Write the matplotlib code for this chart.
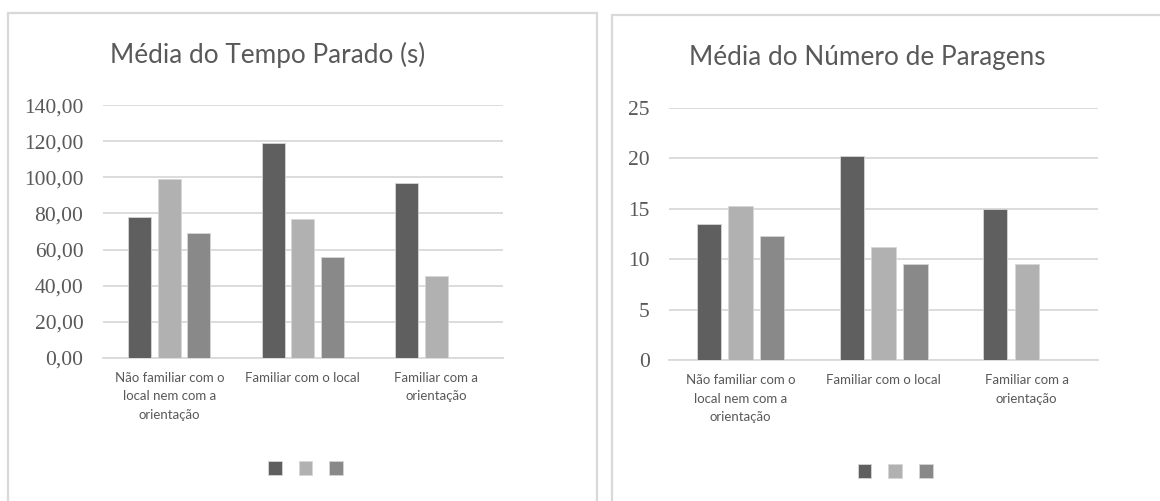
import matplotlib
matplotlib.use("Agg")
import matplotlib.pyplot as plt
from matplotlib.patches import Rectangle
import numpy as np

categories = ["Não familiar com o\nlocal nem com a\norientação",
              "Familiar com o local",
              "Familiar com a\norientação"]

# Média do Tempo Parado (s)
tempo_s1 = [77.9, 118.9, 97.1]
tempo_s2 = [99.1, 77.1, 45.1]
tempo_s3 = [69.3, 55.7, 0.0]
tempo_ticks = [0, 20, 40, 60, 80, 100, 120, 140]

# Média do Número de Paragens
paragens_s1 = [13.5, 20.2, 15.0]
paragens_s2 = [15.3, 11.2, 9.55]
paragens_s3 = [12.35, 9.55, 0.0]
paragens_ticks = [0, 5, 10, 15, 20, 25]

colors = ["#5f5f5f", "#b1b1b1", "#898989"]
edge = "#d6d6d6"
grid_c = "#d9d9d9"
text_c = "#595959"

W, H = 1160, 501
fig = plt.figure(figsize=(W / 100, H / 100), dpi=100)
fig.patch.set_facecolor("white")


def fx(px):
    return px / W


def fy(py):
    return 1 - py / H


# chart-area frames
fig.patches.append(Rectangle((fx(7.5), fy(505)), fx(597 - 7.5), fy(12.5) - fy(505),
                             transform=fig.transFigure, fill=False,
                             edgecolor=grid_c, linewidth=1.6))
fig.patches.append(Rectangle((fx(611.5), fy(505)), fx(1170 - 611.5), fy(14.5) - fy(505),
                             transform=fig.transFigure, fill=False,
                             edgecolor=grid_c, linewidth=1.6))


def draw(ax, series, ticks, fmt, width, step):
    x = np.arange(len(categories))
    bars = []
    for i, (vals, c) in enumerate(zip(series, colors)):
        b = ax.bar(x + (i - 1) * step, vals, width=width, color=c,
                   edgecolor=edge, linewidth=0.6, zorder=3)
        bars.append(b)
    ax.set_xlim(-0.5, len(categories) - 0.5)
    ax.set_ylim(ticks[0], ticks[-1])
    ax.set_yticks(ticks)
    ax.set_yticklabels([fmt(t) for t in ticks], family="Liberation Serif",
                       fontsize=15.5, color=text_c)
    ax.set_xticks(x)
    ax.set_xticklabels(categories, family="Lato", fontsize=9.5, color=text_c,
                       linespacing=1.65, va="top")
    ax.tick_params(axis="y", length=0, pad=14)
    ax.tick_params(axis="x", length=0, pad=10)
    for s in ["left", "right", "top"]:
        ax.spines[s].set_visible(False)
    ax.spines["bottom"].set_color(grid_c)
    ax.spines["bottom"].set_linewidth(1.3)
    ax.yaxis.grid(True, color=grid_c, linewidth=1.3, zorder=0)
    ax.set_axisbelow(True)
    ax.set_facecolor("none")
    return bars


ax1 = fig.add_axes([fx(102.7), fy(357.7), fx(502.7 - 102.7), fy(105.3) - fy(357.7)])
bars1 = draw(ax1, [tempo_s1, tempo_s2, tempo_s3], tempo_ticks,
             lambda t: f"{t:.2f}".replace(".", ","), 0.172, 0.221)

ax2 = fig.add_axes([fx(669), fy(360.3), fx(1098.3 - 669), fy(108) - fy(360.3)])
bars2 = draw(ax2, [paragens_s1, paragens_s2, paragens_s3], paragens_ticks,
             lambda t: f"{t:d}", 0.17, 0.222)

fig.text(fx(267.5), fy(55), "Média do Tempo Parado (s)", ha="center", va="center",
         family="Lato", fontsize=18.8, color=text_c)
fig.text(fx(866.8), fy(57), "Média do Número de Paragens", ha="center", va="center",
         family="Lato", fontsize=18.8, color=text_c)

for bars, cx, cy in [(bars1, 305.5, 468), (bars2, 895.3, 471)]:
    fig.legend(bars, ["", "", ""], loc="center", bbox_to_anchor=(fx(cx), fy(cy)),
               bbox_transform=fig.transFigure, ncol=3, frameon=False,
               fontsize=10, handlelength=1.0, handleheight=1.16,
               handletextpad=0.0, columnspacing=1.22, borderpad=0.0)

fig.savefig("out.png", dpi=100, facecolor="white")
